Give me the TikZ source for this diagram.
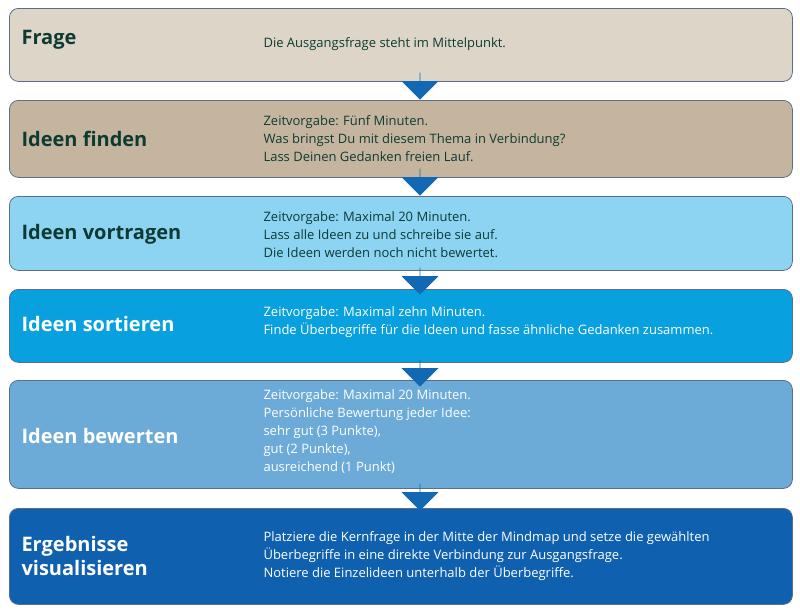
\documentclass[tikz,border=0pt]{standalone}
\usepackage{fontspec}
\setmainfont{Open Sans}
\usetikzlibrary{positioning,shapes.arrows}
\definecolor{rim}{HTML}{5A6E8C}
\definecolor{titlegreen}{HTML}{0D3B33}
\definecolor{arrowblue}{HTML}{1268B3}
\tikzset{
  phase/.style={draw=rim, line width=0.8pt, rounded corners=9pt, anchor=north west, minimum width=783pt},
  head/.style={anchor=west, font=\fontsize{20}{24}\selectfont\bfseries, align=left},
  body/.style={anchor=west, font=\fontsize{13}{18}\selectfont, align=left},
  down/.style={single arrow, draw=none, fill=arrowblue, shape border rotate=270, single arrow head extend=10pt,
    minimum width=37pt, minimum height=27pt, inner sep=0pt}
}
\begin{document}
\begin{tikzpicture}[x=1pt, y=-1pt]
\useasboundingbox (0,0) rectangle (800,613);

% Boxes
\node[phase, fill={rgb,255:red,221;green,213;blue,200}, minimum height=73pt] (frage) at (9,8) {};
\node[phase, fill={rgb,255:red,197;green,181;blue,158}, minimum height=77pt] (finden) at (9,100) {};
\node[phase, fill={rgb,255:red,140;green,212;blue,242}, minimum height=74pt] (vortragen) at (9,196) {};
\node[phase, fill={rgb,255:red,8;green,160;blue,222}, minimum height=73pt] (sortieren) at (9,289) {};
\node[phase, fill={rgb,255:red,108;green,170;blue,216}, minimum height=108pt] (bewerten) at (9,380) {};
\node[phase, fill={rgb,255:red,16;green,96;blue,176}, minimum height=96pt] (ergebnis) at (9,508) {};

% Arrows
\node[down] (a1) at (420,86) {};
\node[down] (a2) at (420,182) {};
\node[down] (a3) at (420,281) {};
\node[down] (a4) at (420,373) {};
\node[down] (a5) at (420,497) {};

% Titles
\node[head, text=titlegreen] (t1) at (18,40) {Frage};
\node[head, text=titlegreen] (t2) at (18,139) {Ideen finden};
\node[head, text=titlegreen] (t3) at (18,234) {Ideen vortragen};
\node[head, text=white] (t4) at (18,324) {Ideen sortieren};
\node[head, text=white] (t5) at (18,436) {Ideen bewerten};
\node[head, text=white] (t6) at (18,556) {Ergebnisse\\visualisieren};

% Texts
\node[body, text=titlegreen] (b1) at (260,44) {Die Ausgangsfrage steht im Mittelpunkt.};
\node[body, text=titlegreen] (b2) at (260,139) {Zeitvorgabe: Fünf Minuten.\\Was bringst Du mit diesem Thema in Verbindung?\\Lass Deinen Gedanken freien Lauf.};
\node[body, text=titlegreen] (b3) at (260,235) {Zeitvorgabe: Maximal 20 Minuten.\\Lass alle Ideen zu und schreibe sie auf.\\Die Ideen werden noch nicht bewertet.};
\node[body, text=white] (b4) at (260,322) {Zeitvorgabe: Maximal zehn Minuten.\\Finde Überbegriffe für die Ideen und fasse ähnliche Gedanken zusammen.};
\node[body, text=white] (b5) at (260,432) {Zeitvorgabe: Maximal 20 Minuten.\\Persönliche Bewertung jeder Idee:\\sehr gut (3 Punkte),\\gut (2 Punkte),\\ausreichend (1 Punkt)};
\node[body, text=white] (b6) at (260,556) {Platziere die Kernfrage in der Mitte der Mindmap und setze die gewählten\\Überbegriffe in eine direkte Verbindung zur Ausgangsfrage.\\Notiere die Einzelideen unterhalb der Überbegriffe.};
\end{tikzpicture}
\end{document}
